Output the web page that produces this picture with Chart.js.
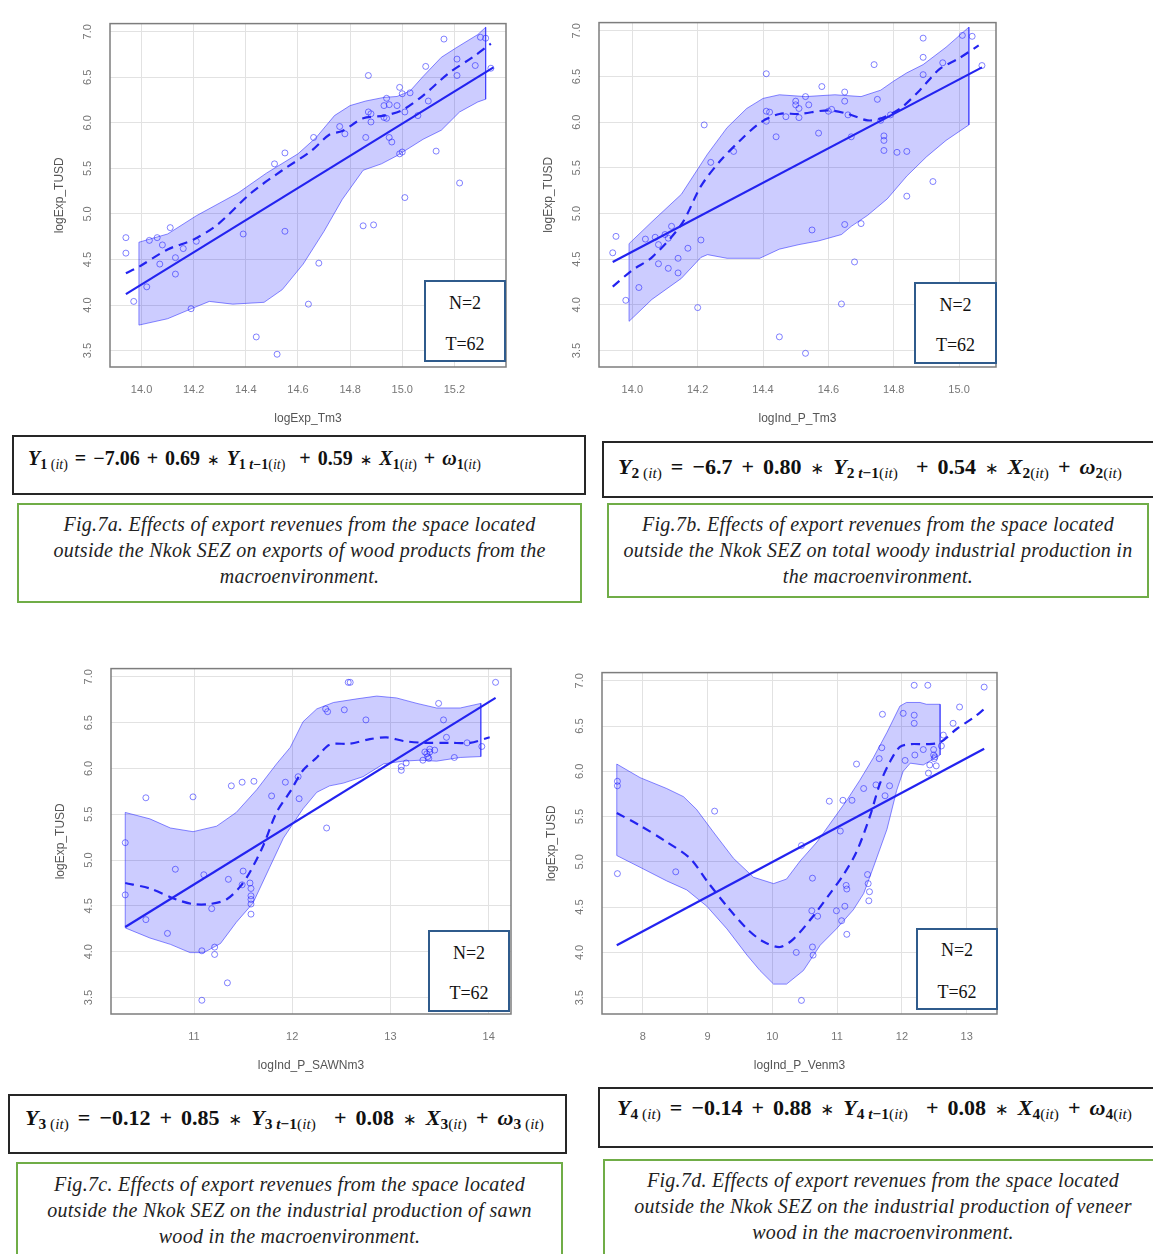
<!DOCTYPE html>
<html><head><meta charset="utf-8">
<script src="https://cdn.jsdelivr.net/npm/chart.js@4.4.0/dist/chart.umd.min.js"></script>
<style>
html,body{margin:0;padding:0;background:#fff;}
body{width:1153px;height:1254px;position:relative;overflow:hidden;}
.cw{position:absolute;}
.nt{position:absolute;border:2px solid #2f5b8c;background:#fff;box-sizing:border-box;font-family:"Liberation Serif",serif;font-size:18px;color:#111;z-index:2}
.nt div{position:absolute;left:0;right:0;text-align:center;line-height:20px}
.eq{position:absolute;border:2px solid #262626;box-sizing:border-box;font-family:"Liberation Serif",serif;font-weight:bold;color:#111;white-space:nowrap;background:#fff}
.eq span.t{position:absolute;line-height:24px}
.eq sub{font-size:70%;vertical-align:-4px;word-spacing:0}
.eq .n{font-weight:normal}
.eq .op{font-family:"DejaVu Sans",sans-serif;font-weight:normal;font-size:75%}
.eq.s{font-size:20px;word-spacing:2px}
.eq.l{font-size:22px;word-spacing:3.5px}
.cap{position:absolute;border:2px solid #70ad47;box-sizing:border-box;font-family:"Liberation Serif",serif;font-style:italic;font-size:20px;letter-spacing:0.3px;color:#222;text-align:center;line-height:26px;background:#fff}
</style></head><body>

<div class="cw" id="wA"><canvas id="cA"></canvas></div>
<div class="cw" id="wB"><canvas id="cB"></canvas></div>
<div class="cw" id="wC"><canvas id="cC"></canvas></div>
<div class="cw" id="wD"><canvas id="cD"></canvas></div>

<div class="nt" style="left:424px;top:280px;width:82px;height:82px"><div style="top:11px">N=2</div><div style="top:52px">T=62</div></div>
<div class="nt" style="left:914px;top:282px;width:83px;height:82px"><div style="top:11px">N=2</div><div style="top:51px">T=62</div></div>
<div class="nt" style="left:428px;top:930px;width:82px;height:82px"><div style="top:11px">N=2</div><div style="top:51px">T=62</div></div>
<div class="nt" style="left:916px;top:928px;width:82px;height:82px"><div style="top:10px">N=2</div><div style="top:52px">T=62</div></div>

<div class="eq s" style="left:12px;top:435px;width:574px;height:60px"><span class="t" style="left:14px;top:9px"><i>Y</i><sub>1 <span class="n">(<i>it</i>)</span></sub> = −7.06 + 0.69 <span class="op">∗</span> <i>Y</i><sub>1 <i>t</i>−1<span class="n">(<i>it</i>)</span></sub> &nbsp;+ 0.59 <span class="op">∗</span> <i>X</i><sub>1<span class="n">(<i>it</i>)</span></sub> + <i>ω</i><sub>1<span class="n">(<i>it</i>)</span></sub></span></div>
<div class="eq l" style="left:602px;top:441px;width:553px;height:57px"><span class="t" style="left:14px;top:12px"><i>Y</i><sub>2 <span class="n">(<i>it</i>)</span></sub> = −6.7 + 0.80 <span class="op">∗</span> <i>Y</i><sub>2 <i>t</i>−1<span class="n">(<i>it</i>)</span></sub> &nbsp;+ 0.54 <span class="op">∗</span> <i>X</i><sub>2<span class="n">(<i>it</i>)</span></sub> + <i>ω</i><sub>2<span class="n">(<i>it</i>)</span></sub></span></div>
<div class="eq l" style="left:8px;top:1094px;width:559px;height:60px"><span class="t" style="left:15px;top:10px"><i>Y</i><sub>3 <span class="n">(<i>it</i>)</span></sub> = −0.12 + 0.85 <span class="op">∗</span> <i>Y</i><sub>3 <i>t</i>−1<span class="n">(<i>it</i>)</span></sub> &nbsp;+ 0.08 <span class="op">∗</span> <i>X</i><sub>3<span class="n">(<i>it</i>)</span></sub> + <i>ω</i><sub>3 <span class="n">(<i>it</i>)</span></sub></span></div>
<div class="eq l" style="left:598px;top:1087px;width:560px;height:61px"><span class="t" style="left:17px;top:7px"><i>Y</i><sub>4 <span class="n">(<i>it</i>)</span></sub> = −0.14 + 0.88 <span class="op">∗</span> <i>Y</i><sub>4 <i>t</i>−1<span class="n">(<i>it</i>)</span></sub> &nbsp;+ 0.08 <span class="op">∗</span> <i>X</i><sub>4<span class="n">(<i>it</i>)</span></sub> + <i>ω</i><sub>4<span class="n">(<i>it</i>)</span></sub></span></div>

<div class="cap" style="left:17px;top:503px;width:565px;height:100px;padding-top:6px">Fig.7a. Effects of export revenues from the space located<br>outside the Nkok SEZ on exports of wood products from the<br>macroenvironment.</div>
<div class="cap" style="left:607px;top:503px;width:542px;height:95px;padding-top:6px">Fig.7b. Effects of export revenues from the space located<br>outside the Nkok SEZ on total woody industrial production in<br>the macroenvironment.</div>
<div class="cap" style="left:16px;top:1162px;width:547px;height:100px;padding-top:7px">Fig.7c. Effects of export revenues from the space located<br>outside the Nkok SEZ on the industrial production of sawn<br>wood in the macroenvironment.</div>
<div class="cap" style="left:603px;top:1159px;width:560px;height:100px;padding-top:6px">Fig.7d. Effects of export revenues from the space located<br>outside the Nkok SEZ on the industrial production of veneer<br>wood in the macroenvironment.</div>

<script>
// ---------- DATA ----------
const yTicks = [3.5, 4.0, 4.5, 5.0, 5.5, 6.0, 6.5, 7.0];
const xTicksA = [14.0, 14.2, 14.4, 14.6, 14.8, 15.0, 15.2];
const xTicksB = [14.0, 14.2, 14.4, 14.6, 14.8, 15.0];
const xTicksC = [11, 12, 13, 14];
const xTicksD = [8, 9, 10, 11, 12, 13];

const xTitleA = 'logExp_Tm3';
const xTitleB = 'logInd_P_Tm3';
const xTitleC = 'logInd_P_SAWNm3';
const xTitleD = 'logInd_P_Venm3';
const yTitle = 'logExp_TUSD';

// scatter points [x, y]
const pointsA = [[13.94,4.74],[13.94,4.57],[13.97,4.04],[14.02,4.20],[14.03,4.71],[14.06,4.74],[14.07,4.45],[14.08,4.66],[14.11,4.85],[14.13,4.52],[14.13,4.34],[14.16,4.62],[14.19,3.96],[14.21,4.70],[14.39,4.78],[14.44,3.65],[14.52,3.46],[14.51,5.55],[14.55,5.67],[14.55,4.81],[14.64,4.01],[14.66,5.84],[14.68,4.46],[14.76,5.96],[14.78,5.88],[14.85,4.87],[14.86,5.84],[14.87,6.12],[14.87,6.52],[14.88,6.01],[14.89,4.88],[14.88,6.10],[14.93,6.06],[14.93,6.19],[14.94,6.05],[14.95,6.20],[14.95,5.84],[14.96,5.79],[14.94,6.27],[14.98,6.19],[14.99,6.39],[14.99,5.66],[15.00,6.32],[15.01,6.12],[15.00,5.68],[15.01,5.18],[15.03,6.33],[15.06,6.08],[15.09,6.62],[15.10,6.24],[15.13,5.69],[15.16,6.92],[15.21,6.70],[15.21,6.52],[15.22,5.34],[15.28,6.63],[15.30,6.94],[15.32,6.93],[15.34,6.60]];
const pointsB = [[13.95,4.75],[13.94,4.57],[13.98,4.05],[14.02,4.19],[14.04,4.72],[14.07,4.74],[14.08,4.45],[14.08,4.66],[14.10,4.77],[14.11,4.73],[14.12,4.86],[14.11,4.40],[14.14,4.51],[14.14,4.35],[14.17,4.62],[14.20,3.97],[14.21,4.71],[14.22,5.97],[14.24,5.56],[14.31,5.68],[14.41,6.53],[14.41,6.12],[14.41,6.01],[14.42,6.11],[14.44,5.84],[14.45,3.65],[14.47,6.06],[14.50,6.19],[14.51,6.15],[14.51,6.05],[14.50,6.23],[14.53,6.28],[14.53,3.47],[14.54,6.19],[14.55,4.82],[14.57,5.88],[14.58,6.39],[14.61,6.14],[14.60,6.12],[14.64,4.01],[14.65,6.33],[14.65,4.88],[14.65,6.23],[14.66,6.08],[14.67,5.84],[14.68,4.47],[14.70,4.89],[14.74,6.63],[14.75,6.25],[14.76,6.02],[14.77,5.85],[14.77,5.80],[14.77,5.69],[14.79,6.08],[14.81,5.67],[14.84,5.68],[14.84,5.19],[14.89,6.92],[14.89,6.71],[14.89,6.52],[14.92,5.35],[14.95,6.65],[15.01,6.95],[15.04,6.94],[15.07,6.62]];
const pointsC = [[10.30,5.19],[10.30,4.62],[10.51,4.35],[10.51,5.68],[10.73,4.20],[10.81,4.90],[10.99,5.69],[11.08,4.01],[11.08,3.47],[11.10,4.84],[11.18,4.47],[11.21,4.05],[11.21,3.97],[11.34,3.66],[11.35,4.79],[11.38,5.81],[11.49,5.85],[11.50,4.88],[11.49,4.73],[11.57,4.75],[11.58,4.69],[11.58,4.61],[11.58,4.57],[11.58,4.52],[11.58,4.41],[11.61,5.86],[11.79,5.70],[11.93,5.85],[12.06,5.91],[12.07,5.67],[12.35,5.35],[12.34,6.65],[12.36,6.62],[12.53,6.64],[12.57,6.94],[12.59,6.94],[12.75,6.53],[13.11,5.98],[13.11,6.02],[13.16,6.06],[13.33,6.09],[13.35,6.18],[13.37,6.16],[13.38,6.13],[13.39,6.11],[13.40,6.18],[13.40,6.21],[13.45,6.20],[13.49,6.71],[13.54,6.53],[13.57,6.34],[13.65,6.12],[13.78,6.28],[13.93,6.24],[14.07,6.94]];
const pointsD = [[7.61,5.89],[7.61,5.84],[7.61,4.87],[8.51,4.89],[9.11,5.56],[10.37,4.00],[10.45,3.47],[10.45,5.18],[10.61,4.46],[10.62,4.82],[10.62,4.06],[10.63,3.97],[10.70,4.40],[10.88,5.67],[10.99,4.46],[11.05,5.34],[11.07,4.35],[11.09,5.68],[11.12,4.51],[11.14,4.74],[11.15,4.70],[11.15,4.20],[11.23,5.68],[11.30,6.08],[11.41,5.81],[11.47,4.86],[11.48,4.76],[11.50,4.67],[11.49,4.57],[11.60,5.85],[11.65,6.14],[11.69,6.26],[11.70,6.63],[11.74,5.73],[11.81,5.84],[12.02,6.64],[12.05,6.12],[12.19,6.95],[12.19,6.62],[12.19,6.53],[12.20,6.18],[12.33,6.24],[12.40,6.95],[12.41,5.98],[12.43,6.07],[12.49,6.18],[12.49,6.24],[12.50,6.14],[12.51,6.16],[12.53,6.06],[12.61,6.28],[12.64,6.40],[12.79,6.53],[12.89,6.71],[13.27,6.93]];

// linear fit lines (end points)
const regXA = [13.94, 15.35], regYA = [4.12, 6.61];
const regXB = [13.94, 15.07], regYB = [4.47, 6.60];
const regXC = [10.30, 14.07], regYC = [4.27, 6.77];
const regXD = [7.60, 13.27], regYD = [4.08, 6.25];

// smoother (dashed)
const loessXA = [13.94,13.99,14.10,14.20,14.29,14.42,14.54,14.65,14.72,14.77,14.85,14.93,15.00,15.08,15.18,15.27,15.34];
const loessYA = [4.35,4.42,4.61,4.72,4.88,5.23,5.48,5.69,5.87,5.91,6.05,6.08,6.14,6.30,6.55,6.72,6.87];
const loessXB = [13.94,14.00,14.06,14.15,14.21,14.27,14.33,14.39,14.45,14.51,14.60,14.66,14.72,14.76,14.82,14.88,14.94,15.00,15.06];
const loessYB = [4.20,4.38,4.52,4.88,5.30,5.58,5.80,5.99,6.09,6.09,6.13,6.09,6.02,6.04,6.15,6.35,6.58,6.70,6.84];
const loessXC = [10.30,10.55,10.82,10.99,11.16,11.33,11.47,11.57,11.71,11.84,11.98,12.11,12.25,12.38,12.59,12.79,12.96,13.13,13.34,13.61,13.81,14.01];
const loessYC = [4.75,4.69,4.57,4.52,4.52,4.57,4.71,4.87,5.17,5.52,5.75,5.98,6.12,6.26,6.27,6.32,6.34,6.30,6.28,6.28,6.28,6.34];
const loessXD = [7.60,7.96,8.37,8.73,8.99,9.30,9.61,9.86,10.12,10.33,10.63,10.89,11.10,11.30,11.51,11.66,11.82,11.97,12.13,12.38,12.59,12.85,13.10,13.26];
const loessYD = [5.54,5.40,5.22,5.04,4.79,4.51,4.26,4.12,4.06,4.15,4.40,4.65,4.86,5.11,5.51,5.86,6.11,6.27,6.30,6.30,6.32,6.47,6.59,6.68];

// band upper / lower edges
const bandUpXA = [13.99,14.10,14.21,14.37,14.48,14.60,14.67,14.74,14.80,14.86,14.93,14.98,15.03,15.08,15.15,15.21,15.29,15.32];
const bandUpYA = [4.69,4.78,4.98,5.23,5.45,5.66,5.84,6.08,6.19,6.24,6.28,6.29,6.35,6.51,6.72,6.83,6.97,7.05];
const bandLoXA = [13.99,14.10,14.20,14.26,14.35,14.47,14.54,14.62,14.70,14.77,14.85,14.92,14.98,15.03,15.08,15.15,15.22,15.29,15.32];
const bandLoYA = [3.78,3.85,3.97,4.04,4.01,4.03,4.17,4.45,4.81,5.16,5.48,5.55,5.64,5.73,5.82,5.92,6.12,6.23,6.26];

const bandUpXB = [13.99,14.06,14.15,14.23,14.29,14.35,14.40,14.45,14.53,14.62,14.70,14.76,14.80,14.84,14.89,14.96,15.03];
const bandUpYB = [4.67,4.91,5.21,5.65,5.94,6.15,6.26,6.30,6.28,6.30,6.28,6.35,6.45,6.54,6.63,6.82,7.04];
const bandLoXB = [13.99,14.06,14.15,14.21,14.23,14.29,14.39,14.45,14.51,14.57,14.64,14.67,14.72,14.78,14.84,14.90,14.96,15.03];
const bandLoYB = [3.82,4.06,4.29,4.52,4.55,4.51,4.51,4.61,4.66,4.70,4.77,4.86,4.98,5.16,5.41,5.62,5.80,5.97];

const bandUpXC = [10.30,10.55,10.76,10.99,11.23,11.43,11.64,11.84,11.98,12.11,12.25,12.42,12.66,12.86,13.06,13.27,13.47,13.71,13.92];
const bandUpYC = [5.52,5.45,5.35,5.31,5.37,5.52,5.77,6.05,6.23,6.51,6.65,6.72,6.76,6.79,6.77,6.71,6.66,6.66,6.71];
const bandLoXC = [10.30,10.55,10.76,10.96,11.10,11.27,11.43,11.60,11.77,11.91,12.11,12.25,12.38,12.52,12.72,12.93,13.13,13.30,13.47,13.71,13.92];
const bandLoYC = [4.26,4.15,4.08,3.99,3.99,4.09,4.32,4.53,4.92,5.24,5.56,5.74,5.81,5.84,5.91,6.05,6.08,6.09,6.08,6.12,6.13];

const bandUpXD = [7.60,7.96,8.37,8.63,8.83,9.09,9.40,9.71,10.02,10.22,10.43,10.69,10.94,11.15,11.35,11.56,11.77,11.97,12.07,12.28,12.38,12.59];
const bandUpYD = [6.08,5.93,5.81,5.72,5.58,5.33,5.04,4.83,4.76,4.81,5.01,5.22,5.47,5.68,5.90,6.15,6.43,6.72,6.76,6.76,6.74,6.74];
const bandLoXD = [7.60,7.96,8.37,8.68,8.99,9.30,9.61,9.81,10.02,10.22,10.48,10.74,10.99,11.25,11.41,11.56,11.77,11.92,12.02,12.13,12.33,12.59];
const bandLoYD = [5.07,4.94,4.79,4.69,4.51,4.26,3.97,3.80,3.65,3.65,3.80,4.08,4.26,4.47,4.65,4.94,5.36,5.79,6.00,6.09,6.07,6.18];

// axis ranges
const yRange = [3.32, 7.09];
const xRangeA = [13.879, 15.398];
const xRangeB = [13.898, 15.113];
const xRangeC = [10.155, 14.227];
const xRangeD = [7.372, 13.468];

// ---------- LAYOUT / STYLE ----------
const plotBoxes = {
  A: {L:110, T:13, R:506, B:367},
  B: {L:599, T:12, R:996, B:367},
  C: {L:111, T:658, R:511, B:1014},
  D: {L:602, T:662, R:997, B:1014}
};
const BLUE = '#2323f0';
const PT = 'rgba(30,30,255,0.55)';

const framePlugin = {
  id: 'frame',
  afterDraw(chart) {
    const {ctx, chartArea: a} = chart;
    ctx.save();
    ctx.strokeStyle = '#7d7d7d';
    ctx.lineWidth = 1.5;
    ctx.strokeRect(a.left, a.top, a.right - a.left, a.bottom - a.top);
    ctx.restore();
  }
};

const zip = (xs, ys) => xs.map((x, i) => ({x, y: ys[i]}));

function build(key, pts, regX, regY, loX, loY, upX, upY, lbX, lbY, xRange, xTicks, dec, xTitle) {
  const p = plotBoxes[key];
  const left = p.L - 70, top = p.T - 10;
  const w = p.R - p.L + 80, h = p.B - p.T + 73;
  const wrap = document.getElementById('w' + key);
  wrap.style.left = left + 'px'; wrap.style.top = top + 'px';
  wrap.style.width = w + 'px'; wrap.style.height = h + 'px';
  const cv = document.getElementById('c' + key);
  cv.width = w; cv.height = h;

  const upper = zip(upX, upY);
  const lower = zip(lbX, lbY).reverse();
  const band = upper.concat(lower, [upper[0]]);

  new Chart(cv, {
    type: 'scatter',
    data: {
      datasets: [
        {data: zip(regX, regY), showLine: true, borderColor: BLUE, borderWidth: 2.2, pointRadius: 0, fill: false},
        {data: zip(loX, loY), showLine: true, borderColor: BLUE, borderWidth: 2.2, borderDash: [9, 6], pointRadius: 0, tension: 0.3, fill: false},
        {data: pts.map(q => ({x: q[0], y: q[1]})), pointRadius: 3, pointBorderWidth: 1, pointBorderColor: PT, pointBackgroundColor: 'rgba(0,0,0,0)', showLine: false},
        {data: band, showLine: true, borderColor: 'rgba(40,40,255,0.55)', borderWidth: 1, backgroundColor: 'rgba(0,0,255,0.2)', pointRadius: 0, tension: 0, fill: 'shape'}
      ]
    },
    options: {
      responsive: false,
      animation: false,
      devicePixelRatio: 1,
      layout: {padding: {left: 0, top: 10, right: 10, bottom: 0}},
      plugins: {legend: {display: false}, tooltip: {enabled: false}},
      scales: {
        x: {
          type: 'linear', min: xRange[0], max: xRange[1],
          afterFit: s => { s.height = 63; },
          afterBuildTicks: s => { s.ticks = xTicks.map(v => ({value: v})); },
          grid: {color: '#e2e2e2', lineWidth: 1, drawTicks: false},
          border: {display: false},
          ticks: {padding: 16, color: '#777', font: {family: 'Liberation Sans', size: 11}, maxRotation: 0, callback: v => v.toFixed(dec)},
          title: {display: true, text: xTitle, color: '#555', font: {family: 'Liberation Sans', size: 12}, padding: {top: 0, bottom: 4}}
        },
        y: {
          type: 'linear', min: yRange[0], max: yRange[1],
          afterFit: s => { s.width = 70; },
          afterBuildTicks: s => { s.ticks = yTicks.map(v => ({value: v})); },
          grid: {color: '#e2e2e2', lineWidth: 1, drawTicks: false},
          border: {display: false},
          ticks: {padding: 14, crossAlign: 'center', minRotation: 90, maxRotation: 90, color: '#777', font: {family: 'Liberation Sans', size: 11}, callback: v => v.toFixed(1)},
          title: {display: true, text: yTitle, color: '#555', font: {family: 'Liberation Sans', size: 12}, padding: {top: 12, bottom: 0}}
        }
      }
    },
    plugins: [framePlugin]
  });
}

build('A', pointsA, regXA, regYA, loessXA, loessYA, bandUpXA, bandUpYA, bandLoXA, bandLoYA, xRangeA, xTicksA, 1, xTitleA);
build('B', pointsB, regXB, regYB, loessXB, loessYB, bandUpXB, bandUpYB, bandLoXB, bandLoYB, xRangeB, xTicksB, 1, xTitleB);
build('C', pointsC, regXC, regYC, loessXC, loessYC, bandUpXC, bandUpYC, bandLoXC, bandLoYC, xRangeC, xTicksC, 0, xTitleC);
build('D', pointsD, regXD, regYD, loessXD, loessYD, bandUpXD, bandUpYD, bandLoXD, bandLoYD, xRangeD, xTicksD, 0, xTitleD);
</script>
</body></html>
